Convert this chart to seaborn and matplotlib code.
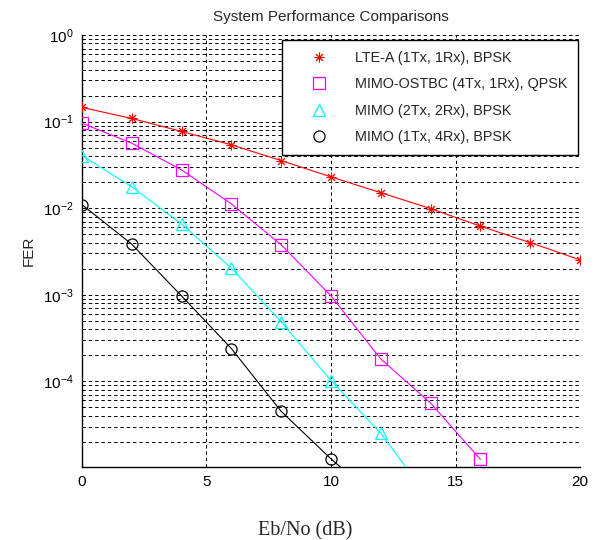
import matplotlib
matplotlib.use('Agg')
import matplotlib.pyplot as plt
import seaborn as sns
from matplotlib.lines import Line2D
from matplotlib.ticker import LogLocator, NullFormatter

# FER curves (Eb/No in dB)
snr_lte = [0, 2, 4, 6, 8, 10, 12, 14, 16, 18, 20]
fer_lte = [0.146, 0.109, 0.077, 0.054, 0.0355, 0.023, 0.0151, 0.0099, 0.0062, 0.0040, 0.00253]

snr_ostbc = [0, 2, 4, 6, 8, 10, 12, 14, 16]
fer_ostbc = [0.096, 0.0564, 0.0277, 0.0112, 0.00378, 9.7e-4, 1.81e-4, 5.6e-5, 1.25e-5]

snr_2x2 = [0, 2, 4, 6, 8, 10, 12, 14]
fer_2x2 = [0.0406, 0.0177, 0.00656, 0.00203, 4.87e-4, 1.02e-4, 2.51e-5, 4.2e-6]

snr_1x4 = [0, 2, 4, 6, 8, 10, 12]
fer_1x4 = [0.011, 0.00384, 9.7e-4, 2.39e-4, 4.49e-5, 1.27e-5, 4.0e-6]

labels = ['LTE-A (1Tx, 1Rx), BPSK', 'MIMO-OSTBC (4Tx, 1Rx), QPSK',
          'MIMO (2Tx, 2Rx), BPSK', 'MIMO (1Tx, 4Rx), BPSK']

sns.set_style('white')
plt.rcParams['font.family'] = ['Liberation Sans', 'DejaVu Sans']

fig = plt.figure(figsize=(5.98, 5.40), dpi=100)
ax = fig.add_axes([0.137, 0.135, 0.833, 0.800])

# x, y, colour, marker, size, edge width, filled
series = [
    (snr_lte, fer_lte, '#ff0000', (8, 2, 0), 7, 0.7, True),
    (snr_ostbc, fer_ostbc, '#ff00ff', 's', 9, 0.9, False),
    (snr_2x2, fer_2x2, '#00ffff', '^', 9, 0.9, False),
    (snr_1x4, fer_1x4, '#000000', 'o', 8, 0.9, False),
]

handles = []
for (x, y, col, mk, ms, mew, filled), lab in zip(series, labels):
    fc = col if filled else 'none'
    sns.lineplot(x=x, y=y, ax=ax, color=col, linewidth=0.8, marker=mk,
                 markersize=ms, markerfacecolor=fc, markeredgecolor=col,
                 markeredgewidth=mew, legend=False, zorder=3)
    handles.append(Line2D([], [], linestyle='none', marker=mk, markersize=ms,
                          markerfacecolor=fc, markeredgecolor=col,
                          markeredgewidth=mew, label=lab))

ax.set_yscale('log')
ax.set_xlim(0, 20)
ax.set_ylim(1.02e-5, 1)
ax.set_xticks([0, 5, 10, 15, 20])
ax.yaxis.set_major_locator(LogLocator(base=10, numticks=10))
ax.yaxis.set_minor_locator(LogLocator(base=10, subs=range(2, 10), numticks=50))
ax.yaxis.set_minor_formatter(NullFormatter())

grid_kw = dict(color='black', linestyle=(0, (3.5, 3)), linewidth=0.7)
ax.grid(True, which='major', axis='both', **grid_kw)
ax.grid(True, which='minor', axis='y', **grid_kw)
ax.set_axisbelow(True)

for s in ['top', 'right']:
    ax.spines[s].set_visible(False)
for s in ['left', 'bottom']:
    ax.spines[s].set_color('black')
    ax.spines[s].set_linewidth(1.0)

ax.tick_params(axis='both', which='major', direction='in', length=4, width=0.8,
               labelsize=11, colors='black', pad=6)
ax.tick_params(axis='y', which='minor', direction='in', length=2, width=0.6)

ax.set_title('System Performance Comparisons', fontsize=11, pad=10)
ax.set_ylabel('FER', fontsize=11)
ax.yaxis.set_label_coords(-0.092, 0.5)
ax.set_xlabel('Eb/No (dB)', fontsize=14.5, family=['Liberation Serif', 'DejaVu Serif'])
ax.xaxis.set_label_coords(0.448, -0.125)

leg = ax.legend(handles=handles, loc='upper right', bbox_to_anchor=(0.996, 0.988),
                borderaxespad=0, fontsize=10.4, frameon=True, fancybox=False,
                edgecolor='black', framealpha=1, handlelength=3.6, handletextpad=0.7,
                labelspacing=0.85, borderpad=0.75)
leg.get_frame().set_linewidth(1.0)
leg.set_zorder(5)

fig.savefig('out.png', dpi=100)
